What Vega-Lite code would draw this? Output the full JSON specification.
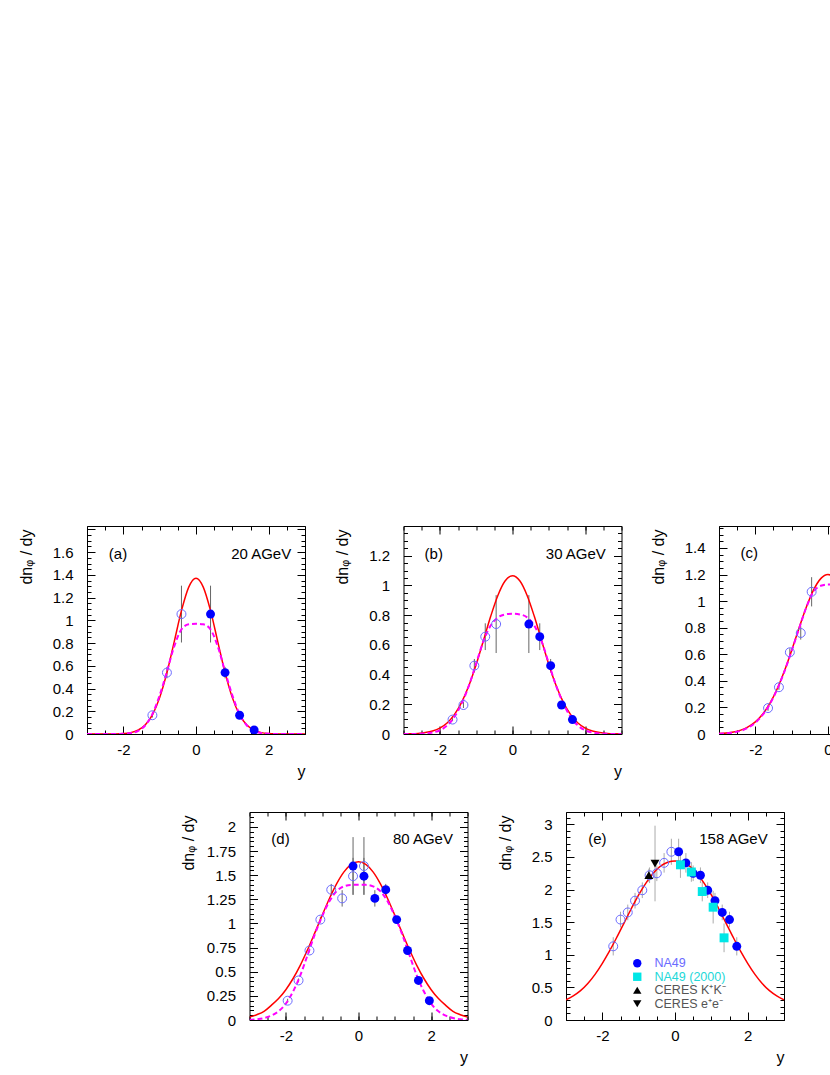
{
"$schema":"https://vega.github.io/schema/vega-lite/v6.json",
"background":"white",
"padding":{"left":16,"top":525,"right":0,"bottom":0},
"config":{"view":{"stroke":"black","strokeWidth":1},"axis":{"grid":false,"labelFont":"Liberation Sans","labelFontSize":15,"labelColor":"black","tickColor":"black","tickWidth":1,"titleFont":"Liberation Sans","titleFontSize":16,"titleFontWeight":"normal","titleColor":"black"}},
"datasets":{
"tags":[{"p":"a","tag":"(a)","energy":"20 AGeV"},{"p":"b","tag":"(b)","energy":"30 AGeV"},{"p":"c","tag":"(c)","energy":"40 AGeV"},{"p":"d","tag":"(d)","energy":"80 AGeV"},{"p":"e","tag":"(e)","energy":"158 AGeV"}],
"curves":[
{"p":"a","m":"fit","y":-3,"v":0},{"p":"a","m":"fit","y":-2.5,"v":0},{"p":"a","m":"fit","y":-2.2,"v":0.001},{"p":"a","m":"fit","y":-2,"v":0.004},{"p":"a","m":"fit","y":-1.8,"v":0.012},{"p":"a","m":"fit","y":-1.6,"v":0.033},{"p":"a","m":"fit","y":-1.4,"v":0.079},{"p":"a","m":"fit","y":-1.2,"v":0.168},{"p":"a","m":"fit","y":-1,"v":0.32},{"p":"a","m":"fit","y":-0.8,"v":0.54},{"p":"a","m":"fit","y":-0.6,"v":0.811},{"p":"a","m":"fit","y":-0.4,"v":1.085},{"p":"a","m":"fit","y":-0.2,"v":1.292},{"p":"a","m":"fit","y":0,"v":1.37},{"p":"a","m":"fit","y":0.2,"v":1.292},{"p":"a","m":"fit","y":0.4,"v":1.085},{"p":"a","m":"fit","y":0.6,"v":0.811},{"p":"a","m":"fit","y":0.8,"v":0.54},{"p":"a","m":"fit","y":1,"v":0.32},{"p":"a","m":"fit","y":1.2,"v":0.168},{"p":"a","m":"fit","y":1.4,"v":0.079},{"p":"a","m":"fit","y":1.6,"v":0.033},{"p":"a","m":"fit","y":1.8,"v":0.012},{"p":"a","m":"fit","y":2,"v":0.004},{"p":"a","m":"fit","y":2.2,"v":0.001},{"p":"a","m":"fit","y":2.5,"v":0},{"p":"a","m":"fit","y":3,"v":0},
{"p":"a","m":"two","y":-3,"v":0},{"p":"a","m":"two","y":-2.5,"v":0},{"p":"a","m":"two","y":-2.2,"v":0.0005},{"p":"a","m":"two","y":-2,"v":0.002},{"p":"a","m":"two","y":-1.8,"v":0.008},{"p":"a","m":"two","y":-1.6,"v":0.026},{"p":"a","m":"two","y":-1.4,"v":0.075},{"p":"a","m":"two","y":-1.2,"v":0.175},{"p":"a","m":"two","y":-1,"v":0.34},{"p":"a","m":"two","y":-0.8,"v":0.55},{"p":"a","m":"two","y":-0.6,"v":0.77},{"p":"a","m":"two","y":-0.4,"v":0.92},{"p":"a","m":"two","y":-0.2,"v":0.965},{"p":"a","m":"two","y":0,"v":0.97},{"p":"a","m":"two","y":0.2,"v":0.965},{"p":"a","m":"two","y":0.4,"v":0.92},{"p":"a","m":"two","y":0.6,"v":0.77},{"p":"a","m":"two","y":0.8,"v":0.55},{"p":"a","m":"two","y":1,"v":0.34},{"p":"a","m":"two","y":1.2,"v":0.175},{"p":"a","m":"two","y":1.4,"v":0.075},{"p":"a","m":"two","y":1.6,"v":0.026},{"p":"a","m":"two","y":1.8,"v":0.008},{"p":"a","m":"two","y":2,"v":0.002},{"p":"a","m":"two","y":2.2,"v":0.0005},{"p":"a","m":"two","y":2.5,"v":0},{"p":"a","m":"two","y":3,"v":0},
{"p":"b","m":"fit","y":-3,"v":0.0006},{"p":"b","m":"fit","y":-2.8,"v":0.0016},{"p":"b","m":"fit","y":-2.6,"v":0.0041},{"p":"b","m":"fit","y":-2.4,"v":0.0094},{"p":"b","m":"fit","y":-2.2,"v":0.02},{"p":"b","m":"fit","y":-2,"v":0.04},{"p":"b","m":"fit","y":-1.8,"v":0.074},{"p":"b","m":"fit","y":-1.6,"v":0.13},{"p":"b","m":"fit","y":-1.4,"v":0.213},{"p":"b","m":"fit","y":-1.2,"v":0.326},{"p":"b","m":"fit","y":-1,"v":0.468},{"p":"b","m":"fit","y":-0.8,"v":0.629},{"p":"b","m":"fit","y":-0.6,"v":0.792},{"p":"b","m":"fit","y":-0.4,"v":0.934},{"p":"b","m":"fit","y":-0.2,"v":1.031},{"p":"b","m":"fit","y":0,"v":1.065},{"p":"b","m":"fit","y":0.2,"v":1.031},{"p":"b","m":"fit","y":0.4,"v":0.934},{"p":"b","m":"fit","y":0.6,"v":0.792},{"p":"b","m":"fit","y":0.8,"v":0.629},{"p":"b","m":"fit","y":1,"v":0.468},{"p":"b","m":"fit","y":1.2,"v":0.326},{"p":"b","m":"fit","y":1.4,"v":0.213},{"p":"b","m":"fit","y":1.6,"v":0.13},{"p":"b","m":"fit","y":1.8,"v":0.074},{"p":"b","m":"fit","y":2,"v":0.04},{"p":"b","m":"fit","y":2.2,"v":0.02},{"p":"b","m":"fit","y":2.4,"v":0.0094},{"p":"b","m":"fit","y":2.6,"v":0.0041},{"p":"b","m":"fit","y":2.8,"v":0.0016},{"p":"b","m":"fit","y":3,"v":0.0006},
{"p":"b","m":"two","y":-3,"v":0},{"p":"b","m":"two","y":-2.8,"v":0},{"p":"b","m":"two","y":-2.6,"v":0.001},{"p":"b","m":"two","y":-2.4,"v":0.003},{"p":"b","m":"two","y":-2.2,"v":0.01},{"p":"b","m":"two","y":-2,"v":0.025},{"p":"b","m":"two","y":-1.8,"v":0.057},{"p":"b","m":"two","y":-1.6,"v":0.115},{"p":"b","m":"two","y":-1.4,"v":0.205},{"p":"b","m":"two","y":-1.2,"v":0.325},{"p":"b","m":"two","y":-1,"v":0.475},{"p":"b","m":"two","y":-0.8,"v":0.625},{"p":"b","m":"two","y":-0.6,"v":0.73},{"p":"b","m":"two","y":-0.4,"v":0.785},{"p":"b","m":"two","y":-0.2,"v":0.805},{"p":"b","m":"two","y":0,"v":0.81},{"p":"b","m":"two","y":0.2,"v":0.805},{"p":"b","m":"two","y":0.4,"v":0.785},{"p":"b","m":"two","y":0.6,"v":0.73},{"p":"b","m":"two","y":0.8,"v":0.625},{"p":"b","m":"two","y":1,"v":0.475},{"p":"b","m":"two","y":1.2,"v":0.325},{"p":"b","m":"two","y":1.4,"v":0.205},{"p":"b","m":"two","y":1.6,"v":0.115},{"p":"b","m":"two","y":1.8,"v":0.057},{"p":"b","m":"two","y":2,"v":0.025},{"p":"b","m":"two","y":2.2,"v":0.01},{"p":"b","m":"two","y":2.4,"v":0.003},{"p":"b","m":"two","y":2.6,"v":0.001},{"p":"b","m":"two","y":2.8,"v":0},{"p":"b","m":"two","y":3,"v":0},
{"p":"c","m":"fit","y":-3,"v":0.0039},{"p":"c","m":"fit","y":-2.8,"v":0.0076},{"p":"c","m":"fit","y":-2.6,"v":0.015},{"p":"c","m":"fit","y":-2.4,"v":0.029},{"p":"c","m":"fit","y":-2.2,"v":0.053},{"p":"c","m":"fit","y":-2,"v":0.091},{"p":"c","m":"fit","y":-1.8,"v":0.148},{"p":"c","m":"fit","y":-1.6,"v":0.23},{"p":"c","m":"fit","y":-1.4,"v":0.339},{"p":"c","m":"fit","y":-1.2,"v":0.474},{"p":"c","m":"fit","y":-1,"v":0.629},{"p":"c","m":"fit","y":-0.8,"v":0.794},{"p":"c","m":"fit","y":-0.6,"v":0.951},{"p":"c","m":"fit","y":-0.4,"v":1.082},{"p":"c","m":"fit","y":-0.2,"v":1.169},{"p":"c","m":"fit","y":0,"v":1.2},{"p":"c","m":"fit","y":0.2,"v":1.169},{"p":"c","m":"fit","y":0.4,"v":1.082},{"p":"c","m":"fit","y":0.6,"v":0.951},{"p":"c","m":"fit","y":0.8,"v":0.794},{"p":"c","m":"fit","y":1,"v":0.629},{"p":"c","m":"fit","y":1.2,"v":0.474},{"p":"c","m":"fit","y":1.4,"v":0.339},{"p":"c","m":"fit","y":1.6,"v":0.23},{"p":"c","m":"fit","y":1.8,"v":0.148},{"p":"c","m":"fit","y":2,"v":0.091},{"p":"c","m":"fit","y":2.2,"v":0.053},{"p":"c","m":"fit","y":2.4,"v":0.029},{"p":"c","m":"fit","y":2.6,"v":0.015},{"p":"c","m":"fit","y":2.8,"v":0.0076},{"p":"c","m":"fit","y":3,"v":0.0039},
{"p":"c","m":"two","y":-3,"v":0.002},{"p":"c","m":"two","y":-2.8,"v":0.005},{"p":"c","m":"two","y":-2.6,"v":0.011},{"p":"c","m":"two","y":-2.4,"v":0.024},{"p":"c","m":"two","y":-2.2,"v":0.047},{"p":"c","m":"two","y":-2,"v":0.085},{"p":"c","m":"two","y":-1.8,"v":0.143},{"p":"c","m":"two","y":-1.6,"v":0.225},{"p":"c","m":"two","y":-1.4,"v":0.335},{"p":"c","m":"two","y":-1.2,"v":0.47},{"p":"c","m":"two","y":-1,"v":0.625},{"p":"c","m":"two","y":-0.8,"v":0.79},{"p":"c","m":"two","y":-0.6,"v":0.95},{"p":"c","m":"two","y":-0.4,"v":1.07},{"p":"c","m":"two","y":-0.2,"v":1.115},{"p":"c","m":"two","y":0,"v":1.125},{"p":"c","m":"two","y":0.2,"v":1.115},{"p":"c","m":"two","y":0.4,"v":1.07},{"p":"c","m":"two","y":0.6,"v":0.95},{"p":"c","m":"two","y":0.8,"v":0.79},{"p":"c","m":"two","y":1,"v":0.625},{"p":"c","m":"two","y":1.2,"v":0.47},{"p":"c","m":"two","y":1.4,"v":0.335},{"p":"c","m":"two","y":1.6,"v":0.225},{"p":"c","m":"two","y":1.8,"v":0.143},{"p":"c","m":"two","y":2,"v":0.085},{"p":"c","m":"two","y":2.2,"v":0.047},{"p":"c","m":"two","y":2.4,"v":0.024},{"p":"c","m":"two","y":2.6,"v":0.011},{"p":"c","m":"two","y":2.8,"v":0.005},{"p":"c","m":"two","y":3,"v":0.002},
{"p":"d","m":"fit","y":-3,"v":0.03},{"p":"d","m":"fit","y":-2.8,"v":0.055},{"p":"d","m":"fit","y":-2.6,"v":0.09},{"p":"d","m":"fit","y":-2.4,"v":0.152},{"p":"d","m":"fit","y":-2.2,"v":0.222},{"p":"d","m":"fit","y":-2,"v":0.314},{"p":"d","m":"fit","y":-1.8,"v":0.43},{"p":"d","m":"fit","y":-1.6,"v":0.569},{"p":"d","m":"fit","y":-1.4,"v":0.73},{"p":"d","m":"fit","y":-1.2,"v":0.905},{"p":"d","m":"fit","y":-1,"v":1.085},{"p":"d","m":"fit","y":-0.8,"v":1.259},{"p":"d","m":"fit","y":-0.6,"v":1.413},{"p":"d","m":"fit","y":-0.4,"v":1.535},{"p":"d","m":"fit","y":-0.2,"v":1.613},{"p":"d","m":"fit","y":0,"v":1.64},{"p":"d","m":"fit","y":0.2,"v":1.613},{"p":"d","m":"fit","y":0.4,"v":1.535},{"p":"d","m":"fit","y":0.6,"v":1.413},{"p":"d","m":"fit","y":0.8,"v":1.259},{"p":"d","m":"fit","y":1,"v":1.085},{"p":"d","m":"fit","y":1.2,"v":0.905},{"p":"d","m":"fit","y":1.4,"v":0.73},{"p":"d","m":"fit","y":1.6,"v":0.569},{"p":"d","m":"fit","y":1.8,"v":0.43},{"p":"d","m":"fit","y":2,"v":0.314},{"p":"d","m":"fit","y":2.2,"v":0.222},{"p":"d","m":"fit","y":2.4,"v":0.152},{"p":"d","m":"fit","y":2.6,"v":0.09},{"p":"d","m":"fit","y":2.8,"v":0.055},{"p":"d","m":"fit","y":3,"v":0.03},
{"p":"d","m":"two","y":-3,"v":0.003},{"p":"d","m":"two","y":-2.8,"v":0.008},{"p":"d","m":"two","y":-2.6,"v":0.02},{"p":"d","m":"two","y":-2.4,"v":0.045},{"p":"d","m":"two","y":-2.2,"v":0.09},{"p":"d","m":"two","y":-2,"v":0.17},{"p":"d","m":"two","y":-1.8,"v":0.295},{"p":"d","m":"two","y":-1.6,"v":0.465},{"p":"d","m":"two","y":-1.4,"v":0.675},{"p":"d","m":"two","y":-1.2,"v":0.89},{"p":"d","m":"two","y":-1,"v":1.075},{"p":"d","m":"two","y":-0.8,"v":1.23},{"p":"d","m":"two","y":-0.6,"v":1.335},{"p":"d","m":"two","y":-0.4,"v":1.385},{"p":"d","m":"two","y":-0.2,"v":1.4},{"p":"d","m":"two","y":0,"v":1.4},{"p":"d","m":"two","y":0.2,"v":1.4},{"p":"d","m":"two","y":0.4,"v":1.385},{"p":"d","m":"two","y":0.6,"v":1.335},{"p":"d","m":"two","y":0.8,"v":1.23},{"p":"d","m":"two","y":1,"v":1.075},{"p":"d","m":"two","y":1.2,"v":0.89},{"p":"d","m":"two","y":1.4,"v":0.675},{"p":"d","m":"two","y":1.6,"v":0.465},{"p":"d","m":"two","y":1.8,"v":0.295},{"p":"d","m":"two","y":2,"v":0.17},{"p":"d","m":"two","y":2.2,"v":0.09},{"p":"d","m":"two","y":2.4,"v":0.045},{"p":"d","m":"two","y":2.6,"v":0.02},{"p":"d","m":"two","y":2.8,"v":0.008},{"p":"d","m":"two","y":3,"v":0.003},
{"p":"e","m":"fit","y":-3,"v":0.31},{"p":"e","m":"fit","y":-2.8,"v":0.37},{"p":"e","m":"fit","y":-2.6,"v":0.45},{"p":"e","m":"fit","y":-2.4,"v":0.56},{"p":"e","m":"fit","y":-2.2,"v":0.7},{"p":"e","m":"fit","y":-2,"v":0.87},{"p":"e","m":"fit","y":-1.8,"v":1.06},{"p":"e","m":"fit","y":-1.6,"v":1.27},{"p":"e","m":"fit","y":-1.4,"v":1.49},{"p":"e","m":"fit","y":-1.2,"v":1.71},{"p":"e","m":"fit","y":-1,"v":1.92},{"p":"e","m":"fit","y":-0.8,"v":2.1},{"p":"e","m":"fit","y":-0.6,"v":2.25},{"p":"e","m":"fit","y":-0.4,"v":2.36},{"p":"e","m":"fit","y":-0.2,"v":2.42},{"p":"e","m":"fit","y":0,"v":2.44},{"p":"e","m":"fit","y":0.2,"v":2.42},{"p":"e","m":"fit","y":0.4,"v":2.36},{"p":"e","m":"fit","y":0.6,"v":2.25},{"p":"e","m":"fit","y":0.8,"v":2.1},{"p":"e","m":"fit","y":1,"v":1.92},{"p":"e","m":"fit","y":1.2,"v":1.71},{"p":"e","m":"fit","y":1.4,"v":1.49},{"p":"e","m":"fit","y":1.6,"v":1.27},{"p":"e","m":"fit","y":1.8,"v":1.06},{"p":"e","m":"fit","y":2,"v":0.87},{"p":"e","m":"fit","y":2.2,"v":0.7},{"p":"e","m":"fit","y":2.4,"v":0.56},{"p":"e","m":"fit","y":2.6,"v":0.45},{"p":"e","m":"fit","y":2.8,"v":0.37},{"p":"e","m":"fit","y":3,"v":0.31}
],
"points":[
{"p":"a","s":"NA49","y":0.4,"v":1.055,"e":0.25},{"p":"a","s":"NA49","y":0.8,"v":0.54,"e":0.05},{"p":"a","s":"NA49","y":1.2,"v":0.165,"e":0.02},{"p":"a","s":"NA49","y":1.6,"v":0.035,"e":0.01},
{"p":"a","s":"NA49 refl","y":-0.4,"v":1.055,"e":0.25},{"p":"a","s":"NA49 refl","y":-0.8,"v":0.54,"e":0.05},{"p":"a","s":"NA49 refl","y":-1.2,"v":0.165,"e":0.02},
{"p":"b","s":"NA49","y":0.45,"v":0.74,"e":0.195},{"p":"b","s":"NA49","y":0.75,"v":0.655,"e":0.09},{"p":"b","s":"NA49","y":1.05,"v":0.46,"e":0.045},{"p":"b","s":"NA49","y":1.35,"v":0.195,"e":0.02},{"p":"b","s":"NA49","y":1.65,"v":0.097,"e":0.01},
{"p":"b","s":"NA49 refl","y":-0.45,"v":0.74,"e":0.195},{"p":"b","s":"NA49 refl","y":-0.75,"v":0.655,"e":0.09},{"p":"b","s":"NA49 refl","y":-1.05,"v":0.46,"e":0.045},{"p":"b","s":"NA49 refl","y":-1.35,"v":0.195,"e":0.02},{"p":"b","s":"NA49 refl","y":-1.65,"v":0.097,"e":0.01},
{"p":"c","s":"NA49","y":0.45,"v":1.07,"e":0.11},{"p":"c","s":"NA49","y":0.75,"v":0.76,"e":0.05},{"p":"c","s":"NA49","y":1.05,"v":0.615,"e":0.03},{"p":"c","s":"NA49","y":1.35,"v":0.352,"e":0.02},{"p":"c","s":"NA49","y":1.65,"v":0.195,"e":0.02},
{"p":"c","s":"NA49 refl","y":-0.45,"v":1.07,"e":0.11},{"p":"c","s":"NA49 refl","y":-0.75,"v":0.76,"e":0.05},{"p":"c","s":"NA49 refl","y":-1.05,"v":0.615,"e":0.03},{"p":"c","s":"NA49 refl","y":-1.35,"v":0.352,"e":0.02},{"p":"c","s":"NA49 refl","y":-1.65,"v":0.195,"e":0.02},
{"p":"d","s":"NA49","y":-0.15,"v":1.595,"e":0.3},{"p":"d","s":"NA49","y":0.15,"v":1.49,"e":0.19},{"p":"d","s":"NA49","y":0.45,"v":1.26,"e":0.085},{"p":"d","s":"NA49","y":0.75,"v":1.35,"e":0.06},{"p":"d","s":"NA49","y":1.05,"v":1.04,"e":0.03},{"p":"d","s":"NA49","y":1.35,"v":0.72,"e":0.02},{"p":"d","s":"NA49","y":1.65,"v":0.41,"e":0.02},{"p":"d","s":"NA49","y":1.95,"v":0.2,"e":0.02},
{"p":"d","s":"NA49 refl","y":0.15,"v":1.595,"e":0.3},{"p":"d","s":"NA49 refl","y":-0.15,"v":1.49,"e":0.19},{"p":"d","s":"NA49 refl","y":-0.45,"v":1.26,"e":0.085},{"p":"d","s":"NA49 refl","y":-0.75,"v":1.35,"e":0.06},{"p":"d","s":"NA49 refl","y":-1.05,"v":1.04,"e":0.03},{"p":"d","s":"NA49 refl","y":-1.35,"v":0.72,"e":0.02},{"p":"d","s":"NA49 refl","y":-1.65,"v":0.41,"e":0.02},{"p":"d","s":"NA49 refl","y":-1.95,"v":0.2,"e":0.02},
{"p":"e","s":"NA49","y":0.1,"v":2.58,"e":0.2},{"p":"e","s":"NA49","y":0.3,"v":2.41,"e":0.15},{"p":"e","s":"NA49","y":0.5,"v":2.25,"e":0.12},{"p":"e","s":"NA49","y":0.7,"v":2.22,"e":0.12},{"p":"e","s":"NA49","y":0.9,"v":1.99,"e":0.12},{"p":"e","s":"NA49","y":1.1,"v":1.83,"e":0.12},{"p":"e","s":"NA49","y":1.3,"v":1.65,"e":0.12},{"p":"e","s":"NA49","y":1.5,"v":1.54,"e":0.12},{"p":"e","s":"NA49","y":1.7,"v":1.13,"e":0.14},
{"p":"e","s":"NA49 refl","y":-0.1,"v":2.58,"e":0.2},{"p":"e","s":"NA49 refl","y":-0.3,"v":2.41,"e":0.15},{"p":"e","s":"NA49 refl","y":-0.5,"v":2.25,"e":0.12},{"p":"e","s":"NA49 refl","y":-0.7,"v":2.22,"e":0.12},{"p":"e","s":"NA49 refl","y":-0.9,"v":1.99,"e":0.12},{"p":"e","s":"NA49 refl","y":-1.1,"v":1.83,"e":0.12},{"p":"e","s":"NA49 refl","y":-1.3,"v":1.65,"e":0.12},{"p":"e","s":"NA49 refl","y":-1.5,"v":1.54,"e":0.12},{"p":"e","s":"NA49 refl","y":-1.7,"v":1.13,"e":0.14},
{"p":"e","s":"NA49 (2000)","y":0.15,"v":2.38,"e":0.2},{"p":"e","s":"NA49 (2000)","y":0.45,"v":2.27,"e":0.15},{"p":"e","s":"NA49 (2000)","y":0.75,"v":1.97,"e":0.15},{"p":"e","s":"NA49 (2000)","y":1.05,"v":1.73,"e":0.25},{"p":"e","s":"NA49 (2000)","y":1.35,"v":1.26,"e":0.22},
{"p":"e","s":"CERES K⁺K⁻","y":-0.72,"v":2.22,"e":0.1},
{"p":"e","s":"CERES e⁺e⁻","y":-0.55,"v":2.4,"e":0.58}
]
},
"resolve":{"scale":{"color":"independent","shape":"independent"}},
"spacing":31,
"vconcat":[
{"spacing":26.5,"resolve":{"scale":{"color":"independent","shape":"independent"}},"hconcat":[
{"width":218,"height":208,"resolve":{"axis":{"x":"independent","y":"independent"}},"layer":[
{"data":{"name":"points"},"transform":[{"filter":"datum.p=='a'"}],"mark":{"type":"errorbar","color":"#666666","thickness":1},"encoding":{"x":{"field":"y","type":"quantitative","scale":{"domain":[-3,3],"nice":false,"zero":false},"axis":null},"y":{"field":"v","type":"quantitative","scale":{"domain":[0,1.83],"nice":false,"zero":false},"axis":null},"yError":{"field":"e"}}},
{"data":{"name":"curves"},"transform":[{"filter":"datum.p=='a' && datum.m=='fit'"}],"mark":{"type":"line","color":"#ff0000","strokeWidth":1.5,"clip":true,"interpolate":"monotone"},"encoding":{"x":{"field":"y","type":"quantitative","scale":{"domain":[-3,3],"nice":false,"zero":false},"axis":{"orient":"bottom","values":[-2,0,2],"ticks":false,"tickSize":0,"domain":false,"labelPadding":8,"labelExpr":"''+datum.value","labelFlush":false,"labelOverlap":false,"title":"y","titleAnchor":"end","titleAlign":"right","titleBaseline":"alphabetic","titleY":42}},"y":{"field":"v","type":"quantitative","scale":{"domain":[0,1.83],"nice":false,"zero":false},"axis":{"orient":"left","values":[0,0.2,0.4,0.6,0.8,1,1.2,1.4,1.6],"ticks":false,"tickSize":0,"domain":false,"labelPadding":14,"labelExpr":"''+datum.value","labelFlush":false,"labelOverlap":false,"title":"dnᵩ / dy","titleX":-53,"titleY":3,"titleAngle":270,"titleAlign":"right","titleBaseline":"bottom","minExtent":70}}}},
{"data":{"name":"curves"},"transform":[{"filter":"datum.p=='a' && datum.m=='two'"}],"mark":{"type":"line","color":"#ff00ff","strokeWidth":2,"strokeDash":[5,3],"clip":true,"interpolate":"monotone"},"encoding":{"x":{"field":"y","type":"quantitative","scale":{"domain":[-3,3],"nice":false,"zero":false},"axis":{"orient":"bottom","values":[-2,0,2],"labels":false,"domain":false,"tickSize":-8,"title":null}},"y":{"field":"v","type":"quantitative","scale":{"domain":[0,1.83],"nice":false,"zero":false},"axis":{"orient":"left","values":[0,0.2,0.4,0.6,0.8,1,1.2,1.4,1.6,1.8],"labels":false,"domain":false,"tickSize":-8,"title":null}}}},
{"data":{"name":"points"},"transform":[{"filter":"datum.p=='a' && datum.s=='NA49 refl'"}],"mark":{"type":"point","shape":"circle","filled":false,"size":80,"color":"#6b6bff","strokeWidth":1,"opacity":1,"clip":true},"encoding":{"x":{"field":"y","type":"quantitative","scale":{"domain":[-3,3],"nice":false,"zero":false},"axis":{"orient":"bottom","values":[-3,-2.5,-2,-1.5,-1,-0.5,0,0.5,1,1.5,2,2.5,3],"labels":false,"domain":false,"tickSize":-4,"title":null}},"y":{"field":"v","type":"quantitative","scale":{"domain":[0,1.83],"nice":false,"zero":false},"axis":{"orient":"left","values":[0,0.05,0.1,0.15,0.2,0.25,0.3,0.35,0.4,0.45,0.5,0.55,0.6,0.65,0.7,0.75,0.8,0.85,0.9,0.95,1,1.05,1.1,1.15,1.2,1.25,1.3,1.35,1.4,1.45,1.5,1.55,1.6,1.65,1.7,1.75,1.8],"labels":false,"domain":false,"tickSize":-4,"title":null}}}},
{"data":{"name":"points"},"transform":[{"filter":"datum.p=='a' && datum.s=='NA49'"}],"mark":{"type":"point","shape":"circle","filled":true,"size":80,"color":"#0000ff","opacity":1,"clip":true},"encoding":{"x":{"field":"y","type":"quantitative","scale":{"domain":[-3,3],"nice":false,"zero":false},"axis":{"orient":"top","values":[-2,0,2],"labels":false,"domain":false,"tickSize":-8,"title":null}},"y":{"field":"v","type":"quantitative","scale":{"domain":[0,1.83],"nice":false,"zero":false},"axis":{"orient":"right","values":[0,0.2,0.4,0.6,0.8,1,1.2,1.4,1.6,1.8],"labels":false,"domain":false,"tickSize":-8,"title":null}}}},
{"data":{"name":"curves"},"transform":[{"filter":"datum.p=='a' && datum.m=='fit'"}],"mark":{"type":"line","strokeOpacity":0,"clip":true},"encoding":{"x":{"field":"y","type":"quantitative","scale":{"domain":[-3,3],"nice":false,"zero":false},"axis":{"orient":"top","values":[-3,-2.5,-2,-1.5,-1,-0.5,0,0.5,1,1.5,2,2.5,3],"labels":false,"domain":false,"tickSize":-4,"title":null}},"y":{"field":"v","type":"quantitative","scale":{"domain":[0,1.83],"nice":false,"zero":false},"axis":{"orient":"right","values":[0,0.05,0.1,0.15,0.2,0.25,0.3,0.35,0.4,0.45,0.5,0.55,0.6,0.65,0.7,0.75,0.8,0.85,0.9,0.95,1,1.05,1.1,1.15,1.2,1.25,1.3,1.35,1.4,1.45,1.5,1.55,1.6,1.65,1.7,1.75,1.8],"labels":false,"domain":false,"tickSize":-4,"title":null}}}},
{"data":{"name":"tags"},"transform":[{"filter":"datum.p=='a'"}],"mark":{"type":"text","align":"left","baseline":"middle","fontSize":15,"font":"Liberation Sans","color":"black"},"encoding":{"x":{"datum":-2.4,"type":"quantitative","scale":{"domain":[-3,3],"nice":false,"zero":false},"axis":null},"y":{"datum":1.582,"type":"quantitative","scale":{"domain":[0,1.83],"nice":false,"zero":false},"axis":null},"text":{"field":"tag"}}},
{"data":{"name":"tags"},"transform":[{"filter":"datum.p=='a'"}],"mark":{"type":"text","align":"right","baseline":"middle","fontSize":15,"font":"Liberation Sans","color":"black"},"encoding":{"x":{"datum":2.62,"type":"quantitative","scale":{"domain":[-3,3],"nice":false,"zero":false},"axis":null},"y":{"datum":1.582,"type":"quantitative","scale":{"domain":[0,1.83],"nice":false,"zero":false},"axis":null},"text":{"field":"energy"}}}
]},
{"width":218,"height":208,"resolve":{"axis":{"x":"independent","y":"independent"}},"layer":[
{"data":{"name":"points"},"transform":[{"filter":"datum.p=='b'"}],"mark":{"type":"errorbar","color":"#666666","thickness":1},"encoding":{"x":{"field":"y","type":"quantitative","scale":{"domain":[-3,3],"nice":false,"zero":false},"axis":null},"y":{"field":"v","type":"quantitative","scale":{"domain":[0,1.4],"nice":false,"zero":false},"axis":null},"yError":{"field":"e"}}},
{"data":{"name":"curves"},"transform":[{"filter":"datum.p=='b' && datum.m=='fit'"}],"mark":{"type":"line","color":"#ff0000","strokeWidth":1.5,"clip":true,"interpolate":"monotone"},"encoding":{"x":{"field":"y","type":"quantitative","scale":{"domain":[-3,3],"nice":false,"zero":false},"axis":{"orient":"bottom","values":[-2,0,2],"ticks":false,"tickSize":0,"domain":false,"labelPadding":8,"labelExpr":"''+datum.value","labelFlush":false,"labelOverlap":false,"title":"y","titleAnchor":"end","titleAlign":"right","titleBaseline":"alphabetic","titleY":42}},"y":{"field":"v","type":"quantitative","scale":{"domain":[0,1.4],"nice":false,"zero":false},"axis":{"orient":"left","values":[0,0.2,0.4,0.6,0.8,1,1.2],"ticks":false,"tickSize":0,"domain":false,"labelPadding":14,"labelExpr":"''+datum.value","labelFlush":false,"labelOverlap":false,"title":"dnᵩ / dy","titleX":-53,"titleY":3,"titleAngle":270,"titleAlign":"right","titleBaseline":"bottom","minExtent":70}}}},
{"data":{"name":"curves"},"transform":[{"filter":"datum.p=='b' && datum.m=='two'"}],"mark":{"type":"line","color":"#ff00ff","strokeWidth":2,"strokeDash":[5,3],"clip":true,"interpolate":"monotone"},"encoding":{"x":{"field":"y","type":"quantitative","scale":{"domain":[-3,3],"nice":false,"zero":false},"axis":{"orient":"bottom","values":[-2,0,2],"labels":false,"domain":false,"tickSize":-8,"title":null}},"y":{"field":"v","type":"quantitative","scale":{"domain":[0,1.4],"nice":false,"zero":false},"axis":{"orient":"left","values":[0,0.2,0.4,0.6,0.8,1,1.2,1.4],"labels":false,"domain":false,"tickSize":-8,"title":null}}}},
{"data":{"name":"points"},"transform":[{"filter":"datum.p=='b' && datum.s=='NA49 refl'"}],"mark":{"type":"point","shape":"circle","filled":false,"size":80,"color":"#6b6bff","strokeWidth":1,"opacity":1,"clip":true},"encoding":{"x":{"field":"y","type":"quantitative","scale":{"domain":[-3,3],"nice":false,"zero":false},"axis":{"orient":"bottom","values":[-3,-2.5,-2,-1.5,-1,-0.5,0,0.5,1,1.5,2,2.5,3],"labels":false,"domain":false,"tickSize":-4,"title":null}},"y":{"field":"v","type":"quantitative","scale":{"domain":[0,1.4],"nice":false,"zero":false},"axis":{"orient":"left","values":[0,0.05,0.1,0.15,0.2,0.25,0.3,0.35,0.4,0.45,0.5,0.55,0.6,0.65,0.7,0.75,0.8,0.85,0.9,0.95,1,1.05,1.1,1.15,1.2,1.25,1.3,1.35,1.4],"labels":false,"domain":false,"tickSize":-4,"title":null}}}},
{"data":{"name":"points"},"transform":[{"filter":"datum.p=='b' && datum.s=='NA49'"}],"mark":{"type":"point","shape":"circle","filled":true,"size":80,"color":"#0000ff","opacity":1,"clip":true},"encoding":{"x":{"field":"y","type":"quantitative","scale":{"domain":[-3,3],"nice":false,"zero":false},"axis":{"orient":"top","values":[-2,0,2],"labels":false,"domain":false,"tickSize":-8,"title":null}},"y":{"field":"v","type":"quantitative","scale":{"domain":[0,1.4],"nice":false,"zero":false},"axis":{"orient":"right","values":[0,0.2,0.4,0.6,0.8,1,1.2,1.4],"labels":false,"domain":false,"tickSize":-8,"title":null}}}},
{"data":{"name":"curves"},"transform":[{"filter":"datum.p=='b' && datum.m=='fit'"}],"mark":{"type":"line","strokeOpacity":0,"clip":true},"encoding":{"x":{"field":"y","type":"quantitative","scale":{"domain":[-3,3],"nice":false,"zero":false},"axis":{"orient":"top","values":[-3,-2.5,-2,-1.5,-1,-0.5,0,0.5,1,1.5,2,2.5,3],"labels":false,"domain":false,"tickSize":-4,"title":null}},"y":{"field":"v","type":"quantitative","scale":{"domain":[0,1.4],"nice":false,"zero":false},"axis":{"orient":"right","values":[0,0.05,0.1,0.15,0.2,0.25,0.3,0.35,0.4,0.45,0.5,0.55,0.6,0.65,0.7,0.75,0.8,0.85,0.9,0.95,1,1.05,1.1,1.15,1.2,1.25,1.3,1.35,1.4],"labels":false,"domain":false,"tickSize":-4,"title":null}}}},
{"data":{"name":"tags"},"transform":[{"filter":"datum.p=='b'"}],"mark":{"type":"text","align":"left","baseline":"middle","fontSize":15,"font":"Liberation Sans","color":"black"},"encoding":{"x":{"datum":-2.42,"type":"quantitative","scale":{"domain":[-3,3],"nice":false,"zero":false},"axis":null},"y":{"datum":1.214,"type":"quantitative","scale":{"domain":[0,1.4],"nice":false,"zero":false},"axis":null},"text":{"field":"tag"}}},
{"data":{"name":"tags"},"transform":[{"filter":"datum.p=='b'"}],"mark":{"type":"text","align":"right","baseline":"middle","fontSize":15,"font":"Liberation Sans","color":"black"},"encoding":{"x":{"datum":2.57,"type":"quantitative","scale":{"domain":[-3,3],"nice":false,"zero":false},"axis":null},"y":{"datum":1.214,"type":"quantitative","scale":{"domain":[0,1.4],"nice":false,"zero":false},"axis":null},"text":{"field":"energy"}}}
]},
{"width":114,"height":208,"view":{"stroke":null},"resolve":{"axis":{"x":"independent","y":"independent"}},"layer":[
{"data":{"name":"points"},"transform":[{"filter":"datum.p=='c'"}],"mark":{"type":"errorbar","color":"#666666","thickness":1,"clip":true},"encoding":{"x":{"field":"y","type":"quantitative","scale":{"domain":[-3,0.138],"nice":false,"zero":false},"axis":null},"y":{"field":"v","type":"quantitative","scale":{"domain":[0,1.565],"nice":false,"zero":false},"axis":null},"yError":{"field":"e"}}},
{"data":{"name":"curves"},"transform":[{"filter":"datum.p=='c' && datum.m=='fit'"}],"mark":{"type":"line","color":"#ff0000","strokeWidth":1.5,"clip":true,"interpolate":"monotone"},"encoding":{"x":{"field":"y","type":"quantitative","scale":{"domain":[-3,0.138],"nice":false,"zero":false},"axis":{"orient":"bottom","values":[-2,0],"ticks":false,"tickSize":0,"domain":false,"labelPadding":8,"labelExpr":"''+datum.value","labelFlush":false,"labelOverlap":false,"title":null}},"y":{"field":"v","type":"quantitative","scale":{"domain":[0,1.565],"nice":false,"zero":false},"axis":{"orient":"left","values":[0,0.2,0.4,0.6,0.8,1,1.2,1.4],"ticks":false,"tickSize":0,"domain":false,"labelPadding":14,"labelExpr":"''+datum.value","labelFlush":false,"labelOverlap":false,"title":"dnᵩ / dy","titleX":-53,"titleY":3,"titleAngle":270,"titleAlign":"right","titleBaseline":"bottom","minExtent":70}}}},
{"data":{"name":"curves"},"transform":[{"filter":"datum.p=='c' && datum.m=='two'"}],"mark":{"type":"line","color":"#ff00ff","strokeWidth":2,"strokeDash":[5,3],"clip":true,"interpolate":"monotone"},"encoding":{"x":{"field":"y","type":"quantitative","scale":{"domain":[-3,0.138],"nice":false,"zero":false},"axis":{"orient":"bottom","values":[-2,0],"labels":false,"domain":true,"domainColor":"black","domainWidth":1,"tickSize":-8,"title":null}},"y":{"field":"v","type":"quantitative","scale":{"domain":[0,1.565],"nice":false,"zero":false},"axis":{"orient":"left","values":[0,0.2,0.4,0.6,0.8,1,1.2,1.4],"labels":false,"domain":true,"domainColor":"black","domainWidth":1,"tickSize":-8,"title":null}}}},
{"data":{"name":"points"},"transform":[{"filter":"datum.p=='c' && datum.s=='NA49 refl'"}],"mark":{"type":"point","shape":"circle","filled":false,"size":80,"color":"#6b6bff","strokeWidth":1,"opacity":1,"clip":true},"encoding":{"x":{"field":"y","type":"quantitative","scale":{"domain":[-3,0.138],"nice":false,"zero":false},"axis":{"orient":"bottom","values":[-3,-2.5,-2,-1.5,-1,-0.5,0],"labels":false,"domain":false,"tickSize":-4,"title":null}},"y":{"field":"v","type":"quantitative","scale":{"domain":[0,1.565],"nice":false,"zero":false},"axis":{"orient":"left","values":[0,0.05,0.1,0.15,0.2,0.25,0.3,0.35,0.4,0.45,0.5,0.55,0.6,0.65,0.7,0.75,0.8,0.85,0.9,0.95,1,1.05,1.1,1.15,1.2,1.25,1.3,1.35,1.4,1.45,1.5,1.55],"labels":false,"domain":false,"tickSize":-4,"title":null}}}},
{"data":{"name":"points"},"transform":[{"filter":"datum.p=='c' && datum.s=='NA49'"}],"mark":{"type":"point","shape":"circle","filled":true,"size":80,"color":"#0000ff","opacity":1,"clip":true},"encoding":{"x":{"field":"y","type":"quantitative","scale":{"domain":[-3,0.138],"nice":false,"zero":false},"axis":{"orient":"top","values":[-2,0],"labels":false,"domain":true,"domainColor":"black","domainWidth":1,"tickSize":-8,"title":null}},"y":{"field":"v","type":"quantitative","scale":{"domain":[0,1.565],"nice":false,"zero":false},"axis":null}}},
{"data":{"name":"curves"},"transform":[{"filter":"datum.p=='c' && datum.m=='fit'"}],"mark":{"type":"line","strokeOpacity":0,"clip":true},"encoding":{"x":{"field":"y","type":"quantitative","scale":{"domain":[-3,0.138],"nice":false,"zero":false},"axis":{"orient":"top","values":[-3,-2.5,-2,-1.5,-1,-0.5,0],"labels":false,"domain":false,"tickSize":-4,"title":null}},"y":{"field":"v","type":"quantitative","scale":{"domain":[0,1.565],"nice":false,"zero":false},"axis":null}}},
{"data":{"name":"tags"},"transform":[{"filter":"datum.p=='c'"}],"mark":{"type":"text","align":"left","baseline":"middle","fontSize":15,"font":"Liberation Sans","color":"black"},"encoding":{"x":{"datum":-2.41,"type":"quantitative","scale":{"domain":[-3,0.138],"nice":false,"zero":false},"axis":null},"y":{"datum":1.36,"type":"quantitative","scale":{"domain":[0,1.565],"nice":false,"zero":false},"axis":null},"text":{"field":"tag"}}}
]}
]},
{"spacing":26.5,"resolve":{"scale":{"color":"independent","shape":"independent"}},"hconcat":[
{"width":64.5,"height":208,"view":{"stroke":null},"data":{"name":"tags"},"transform":[{"filter":"false"}],"mark":{"type":"point","opacity":0}},
{"width":218,"height":208,"resolve":{"axis":{"x":"independent","y":"independent"}},"layer":[
{"data":{"name":"points"},"transform":[{"filter":"datum.p=='d'"}],"mark":{"type":"errorbar","color":"#666666","thickness":1},"encoding":{"x":{"field":"y","type":"quantitative","scale":{"domain":[-3,3],"nice":false,"zero":false},"axis":null},"y":{"field":"v","type":"quantitative","scale":{"domain":[0,2.155],"nice":false,"zero":false},"axis":null},"yError":{"field":"e"}}},
{"data":{"name":"curves"},"transform":[{"filter":"datum.p=='d' && datum.m=='fit'"}],"mark":{"type":"line","color":"#ff0000","strokeWidth":1.5,"clip":true,"interpolate":"monotone"},"encoding":{"x":{"field":"y","type":"quantitative","scale":{"domain":[-3,3],"nice":false,"zero":false},"axis":{"orient":"bottom","values":[-2,0,2],"ticks":false,"tickSize":0,"domain":false,"labelPadding":8,"labelExpr":"''+datum.value","labelFlush":false,"labelOverlap":false,"title":"y","titleAnchor":"end","titleAlign":"right","titleBaseline":"alphabetic","titleY":42}},"y":{"field":"v","type":"quantitative","scale":{"domain":[0,2.155],"nice":false,"zero":false},"axis":{"orient":"left","values":[0,0.25,0.5,0.75,1,1.25,1.5,1.75,2],"ticks":false,"tickSize":0,"domain":false,"labelPadding":14,"labelExpr":"''+datum.value","labelFlush":false,"labelOverlap":false,"title":"dnᵩ / dy","titleX":-53,"titleY":3,"titleAngle":270,"titleAlign":"right","titleBaseline":"bottom","minExtent":70}}}},
{"data":{"name":"curves"},"transform":[{"filter":"datum.p=='d' && datum.m=='two'"}],"mark":{"type":"line","color":"#ff00ff","strokeWidth":2,"strokeDash":[5,3],"clip":true,"interpolate":"monotone"},"encoding":{"x":{"field":"y","type":"quantitative","scale":{"domain":[-3,3],"nice":false,"zero":false},"axis":{"orient":"bottom","values":[-2,0,2],"labels":false,"domain":false,"tickSize":-8,"title":null}},"y":{"field":"v","type":"quantitative","scale":{"domain":[0,2.155],"nice":false,"zero":false},"axis":{"orient":"left","values":[0,0.25,0.5,0.75,1,1.25,1.5,1.75,2],"labels":false,"domain":false,"tickSize":-8,"title":null}}}},
{"data":{"name":"points"},"transform":[{"filter":"datum.p=='d' && datum.s=='NA49 refl'"}],"mark":{"type":"point","shape":"circle","filled":false,"size":80,"color":"#6b6bff","strokeWidth":1,"opacity":1,"clip":true},"encoding":{"x":{"field":"y","type":"quantitative","scale":{"domain":[-3,3],"nice":false,"zero":false},"axis":{"orient":"bottom","values":[-3,-2.5,-2,-1.5,-1,-0.5,0,0.5,1,1.5,2,2.5,3],"labels":false,"domain":false,"tickSize":-4,"title":null}},"y":{"field":"v","type":"quantitative","scale":{"domain":[0,2.155],"nice":false,"zero":false},"axis":{"orient":"left","values":[0,0.05,0.1,0.15,0.2,0.25,0.3,0.35,0.4,0.45,0.5,0.55,0.6,0.65,0.7,0.75,0.8,0.85,0.9,0.95,1,1.05,1.1,1.15,1.2,1.25,1.3,1.35,1.4,1.45,1.5,1.55,1.6,1.65,1.7,1.75,1.8,1.85,1.9,1.95,2,2.05,2.1,2.15],"labels":false,"domain":false,"tickSize":-4,"title":null}}}},
{"data":{"name":"points"},"transform":[{"filter":"datum.p=='d' && datum.s=='NA49'"}],"mark":{"type":"point","shape":"circle","filled":true,"size":80,"color":"#0000ff","opacity":1,"clip":true},"encoding":{"x":{"field":"y","type":"quantitative","scale":{"domain":[-3,3],"nice":false,"zero":false},"axis":{"orient":"top","values":[-2,0,2],"labels":false,"domain":false,"tickSize":-8,"title":null}},"y":{"field":"v","type":"quantitative","scale":{"domain":[0,2.155],"nice":false,"zero":false},"axis":{"orient":"right","values":[0,0.25,0.5,0.75,1,1.25,1.5,1.75,2],"labels":false,"domain":false,"tickSize":-8,"title":null}}}},
{"data":{"name":"curves"},"transform":[{"filter":"datum.p=='d' && datum.m=='fit'"}],"mark":{"type":"line","strokeOpacity":0,"clip":true},"encoding":{"x":{"field":"y","type":"quantitative","scale":{"domain":[-3,3],"nice":false,"zero":false},"axis":{"orient":"top","values":[-3,-2.5,-2,-1.5,-1,-0.5,0,0.5,1,1.5,2,2.5,3],"labels":false,"domain":false,"tickSize":-4,"title":null}},"y":{"field":"v","type":"quantitative","scale":{"domain":[0,2.155],"nice":false,"zero":false},"axis":{"orient":"right","values":[0,0.05,0.1,0.15,0.2,0.25,0.3,0.35,0.4,0.45,0.5,0.55,0.6,0.65,0.7,0.75,0.8,0.85,0.9,0.95,1,1.05,1.1,1.15,1.2,1.25,1.3,1.35,1.4,1.45,1.5,1.55,1.6,1.65,1.7,1.75,1.8,1.85,1.9,1.95,2,2.05,2.1,2.15],"labels":false,"domain":false,"tickSize":-4,"title":null}}}},
{"data":{"name":"tags"},"transform":[{"filter":"datum.p=='d'"}],"mark":{"type":"text","align":"left","baseline":"middle","fontSize":15,"font":"Liberation Sans","color":"black"},"encoding":{"x":{"datum":-2.4,"type":"quantitative","scale":{"domain":[-3,3],"nice":false,"zero":false},"axis":null},"y":{"datum":1.871,"type":"quantitative","scale":{"domain":[0,2.155],"nice":false,"zero":false},"axis":null},"text":{"field":"tag"}}},
{"data":{"name":"tags"},"transform":[{"filter":"datum.p=='d'"}],"mark":{"type":"text","align":"right","baseline":"middle","fontSize":15,"font":"Liberation Sans","color":"black"},"encoding":{"x":{"datum":2.6,"type":"quantitative","scale":{"domain":[-3,3],"nice":false,"zero":false},"axis":null},"y":{"datum":1.871,"type":"quantitative","scale":{"domain":[0,2.155],"nice":false,"zero":false},"axis":null},"text":{"field":"energy"}}}
]},
{"width":218,"height":208,"resolve":{"axis":{"x":"independent","y":"independent"}},"layer":[
{"data":{"name":"points"},"transform":[{"filter":"datum.p=='e'"}],"mark":{"type":"errorbar","color":"#aaaaaa","thickness":1},"encoding":{"x":{"field":"y","type":"quantitative","scale":{"domain":[-3,3],"nice":false,"zero":false},"axis":null},"y":{"field":"v","type":"quantitative","scale":{"domain":[0,3.19],"nice":false,"zero":false},"axis":null},"yError":{"field":"e"}}},
{"data":{"name":"curves"},"transform":[{"filter":"datum.p=='e' && datum.m=='fit'"}],"mark":{"type":"line","color":"#ff0000","strokeWidth":1.5,"clip":true,"interpolate":"monotone"},"encoding":{"x":{"field":"y","type":"quantitative","scale":{"domain":[-3,3],"nice":false,"zero":false},"axis":{"orient":"bottom","values":[-2,0,2],"ticks":false,"tickSize":0,"domain":false,"labelPadding":8,"labelExpr":"''+datum.value","labelFlush":false,"labelOverlap":false,"title":"y","titleAnchor":"end","titleAlign":"right","titleBaseline":"alphabetic","titleY":42}},"y":{"field":"v","type":"quantitative","scale":{"domain":[0,3.19],"nice":false,"zero":false},"axis":{"orient":"left","values":[0,0.5,1,1.5,2,2.5,3],"ticks":false,"tickSize":0,"domain":false,"labelPadding":14,"labelExpr":"''+datum.value","labelFlush":false,"labelOverlap":false,"title":"dnᵩ / dy","titleX":-53,"titleY":3,"titleAngle":270,"titleAlign":"right","titleBaseline":"bottom","minExtent":70}}}},
{"data":{"name":"curves"},"transform":[{"filter":"datum.p=='e' && datum.m=='fit'"}],"mark":{"type":"line","strokeOpacity":0,"clip":true},"encoding":{"x":{"field":"y","type":"quantitative","scale":{"domain":[-3,3],"nice":false,"zero":false},"axis":{"orient":"bottom","values":[-2,0,2],"labels":false,"domain":false,"tickSize":-8,"title":null}},"y":{"field":"v","type":"quantitative","scale":{"domain":[0,3.19],"nice":false,"zero":false},"axis":{"orient":"left","values":[0,0.5,1,1.5,2,2.5,3],"labels":false,"domain":false,"tickSize":-8,"title":null}}}},
{"data":{"name":"points"},"transform":[{"filter":"datum.p=='e' && datum.s=='NA49 refl'"}],"mark":{"type":"point","shape":"circle","filled":false,"size":80,"color":"#6b6bff","strokeWidth":1,"opacity":1,"clip":true},"encoding":{"x":{"field":"y","type":"quantitative","scale":{"domain":[-3,3],"nice":false,"zero":false},"axis":{"orient":"bottom","values":[-3,-2.5,-2,-1.5,-1,-0.5,0,0.5,1,1.5,2,2.5,3],"labels":false,"domain":false,"tickSize":-4,"title":null}},"y":{"field":"v","type":"quantitative","scale":{"domain":[0,3.19],"nice":false,"zero":false},"axis":{"orient":"left","values":[0,0.1,0.2,0.3,0.4,0.5,0.6,0.7,0.8,0.9,1,1.1,1.2,1.3,1.4,1.5,1.6,1.7,1.8,1.9,2,2.1,2.2,2.3,2.4,2.5,2.6,2.7,2.8,2.9,3,3.1],"labels":false,"domain":false,"tickSize":-4,"title":null}}}},
{"data":{"name":"points"},"transform":[{"filter":"datum.p=='e' && datum.s!='NA49 refl'"}],"mark":{"type":"point","filled":true,"size":80,"opacity":1,"clip":true},"encoding":{"x":{"field":"y","type":"quantitative","scale":{"domain":[-3,3],"nice":false,"zero":false},"axis":{"orient":"top","values":[-2,0,2],"labels":false,"domain":false,"tickSize":-8,"title":null}},"y":{"field":"v","type":"quantitative","scale":{"domain":[0,3.19],"nice":false,"zero":false},"axis":{"orient":"right","values":[0,0.5,1,1.5,2,2.5,3],"labels":false,"domain":false,"tickSize":-8,"title":null}},
"color":{"field":"s","type":"nominal","scale":{"domain":["NA49","NA49 (2000)","CERES K⁺K⁻","CERES e⁺e⁻"],"range":["#0000ff","#00e6e6","#000000","#000000"]},"legend":{"title":null,"orient":"none","legendX":65,"legendY":145,"padding":0,"labelFont":"Liberation Sans","labelFontSize":12.5,"labelOffset":11,"rowPadding":0.5,"symbolSize":70,"symbolStrokeWidth":0,"symbolOpacity":1,"labelColor":"#555555","encode":{"labels":{"update":{"fill":{"signal":"datum.value === 'NA49' ? '#6b6bff' : datum.value === 'NA49 (2000)' ? '#22d8d8' : '#555555'"}}}}}},
"shape":{"field":"s","type":"nominal","scale":{"domain":["NA49","NA49 (2000)","CERES K⁺K⁻","CERES e⁺e⁻"],"range":["circle","square","triangle-up","triangle-down"]},"legend":{"title":null,"orient":"none","legendX":65,"legendY":145,"padding":0,"labelFont":"Liberation Sans","labelFontSize":12.5,"labelOffset":11,"rowPadding":0.5,"symbolSize":70,"symbolStrokeWidth":0,"symbolOpacity":1,"labelColor":"#555555","encode":{"labels":{"update":{"fill":{"signal":"datum.value === 'NA49' ? '#6b6bff' : datum.value === 'NA49 (2000)' ? '#22d8d8' : '#555555'"}}}}}}}},
{"data":{"name":"curves"},"transform":[{"filter":"datum.p=='e' && datum.m=='fit'"}],"mark":{"type":"line","strokeOpacity":0,"clip":true},"encoding":{"x":{"field":"y","type":"quantitative","scale":{"domain":[-3,3],"nice":false,"zero":false},"axis":{"orient":"top","values":[-3,-2.5,-2,-1.5,-1,-0.5,0,0.5,1,1.5,2,2.5,3],"labels":false,"domain":false,"tickSize":-4,"title":null}},"y":{"field":"v","type":"quantitative","scale":{"domain":[0,3.19],"nice":false,"zero":false},"axis":{"orient":"right","values":[0,0.1,0.2,0.3,0.4,0.5,0.6,0.7,0.8,0.9,1,1.1,1.2,1.3,1.4,1.5,1.6,1.7,1.8,1.9,2,2.1,2.2,2.3,2.4,2.5,2.6,2.7,2.8,2.9,3,3.1],"labels":false,"domain":false,"tickSize":-4,"title":null}}}},
{"data":{"name":"tags"},"transform":[{"filter":"datum.p=='e'"}],"mark":{"type":"text","align":"left","baseline":"middle","fontSize":15,"font":"Liberation Sans","color":"black"},"encoding":{"x":{"datum":-2.39,"type":"quantitative","scale":{"domain":[-3,3],"nice":false,"zero":false},"axis":null},"y":{"datum":2.78,"type":"quantitative","scale":{"domain":[0,3.19],"nice":false,"zero":false},"axis":null},"text":{"field":"tag"}}},
{"data":{"name":"tags"},"transform":[{"filter":"datum.p=='e'"}],"mark":{"type":"text","align":"right","baseline":"middle","fontSize":15,"font":"Liberation Sans","color":"black"},"encoding":{"x":{"datum":2.55,"type":"quantitative","scale":{"domain":[-3,3],"nice":false,"zero":false},"axis":null},"y":{"datum":2.78,"type":"quantitative","scale":{"domain":[0,3.19],"nice":false,"zero":false},"axis":null},"text":{"field":"energy"}}}
]}
]}
]
}
